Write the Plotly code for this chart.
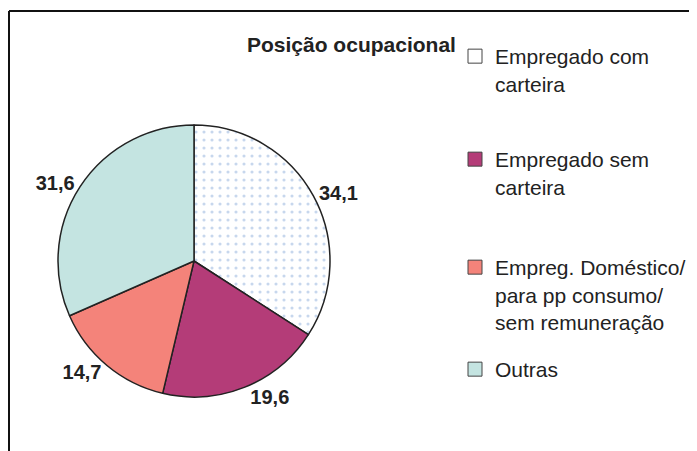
import plotly.graph_objects as go

categories = ["Empregado com<br>carteira", "Empregado sem<br>carteira",
              "Empreg. Doméstico/<br>para pp consumo/<br>sem remuneração", "Outras"]
values = [34.1, 19.6, 14.7, 31.6]
colors = ["#ffffff", "#b43c78", "#f4837a", "#c4e4e1"]
title_text = "Posição ocupacional"
legend_tops = [28, 131, 239, 341]

W, H = 697, 451
OFF = 8  # page offset compensation
labels_txt = [f"{v:.1f}".replace(".", ",") for v in values]

cx, cy, r = 194 - OFF, 261 - OFF, 136

fig = go.Figure()
fig.add_trace(go.Pie(
    labels=categories, values=values, text=labels_txt,
    textinfo="text", textposition="outside", sort=False,
    direction="clockwise", rotation=0, showlegend=False,
    hoverinfo="label+value",
    textfont=dict(family="Liberation Sans, Arial", size=20, color="#222222", weight="bold"),
    marker=dict(colors=colors, line=dict(color="#222222", width=1.5),
                pattern=dict(shape=[".", "", "", ""], fgcolor=["#8fb0dc"] + colors[1:],
                             bgcolor=colors, size=8, solidity=0.12, fillmode="overlay")),
    domain=dict(x=[(cx - r) / W, (cx + r) / W], y=[1 - (cy + r) / H, 1 - (cy - r) / H]),
))

legend_names = ["legend", "legend2", "legend3", "legend4"]
for i, name in enumerate(categories):
    fig.add_trace(go.Scatter(
        x=[None], y=[None], mode="markers", name=name, legend=legend_names[i],
        marker=dict(symbol="square", size=14, color=colors[i],
                    line=dict(color="#444444", width=1)),
        showlegend=True, hoverinfo="skip",
    ))

layout_legends = {}
for i, ln in enumerate(legend_names):
    layout_legends[ln] = dict(
        x=447 / W, y=1 - legend_tops[i] / H, xanchor="left", yanchor="top",
        bgcolor="rgba(0,0,0,0)", valign="top", itemclick=False,
        font=dict(family="Liberation Sans, Arial", size=21, color="#222222"),
    )

fig.update_layout(
    width=W, height=H, margin=dict(l=0, r=0, t=0, b=0, autoexpand=False),
    paper_bgcolor="white", plot_bgcolor="white",
    xaxis=dict(visible=False), yaxis=dict(visible=False),
    **layout_legends,
    annotations=[dict(text=title_text, x=(458 - OFF) / W, y=1 - (44 - OFF) / H,
                      xref="paper", yref="paper",
                      xanchor="right", yanchor="middle", showarrow=False,
                      font=dict(family="Liberation Sans, Arial", size=21, color="#222222",
                                weight="bold"))],
    shapes=[
        dict(type="line", xref="paper", yref="paper", x0=1 / W, x1=1.0,
             y0=1 - (11 - OFF) / H, y1=1 - (11 - OFF) / H, line=dict(color="#111111", width=2)),
        dict(type="line", xref="paper", yref="paper", x0=1 / W, x1=1 / W,
             y0=0, y1=1 - (11 - OFF) / H, line=dict(color="#111111", width=2)),
    ],
)

fig.write_html("out.html")
